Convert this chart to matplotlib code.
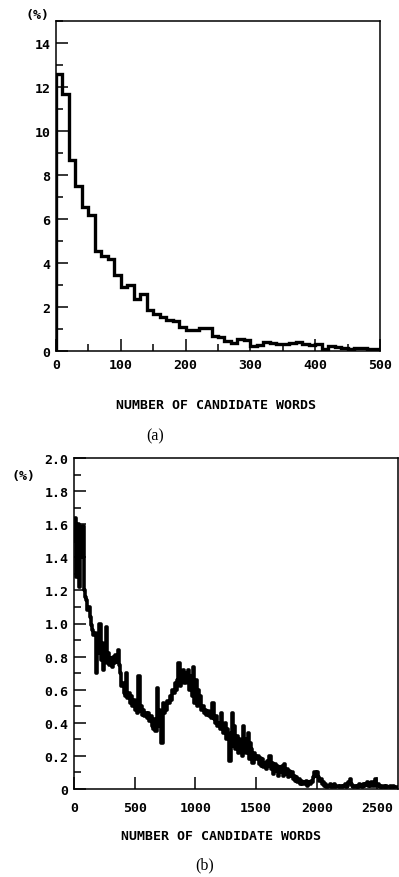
import numpy as np
import matplotlib
matplotlib.use("Agg")
import matplotlib.pyplot as plt
from matplotlib.ticker import MultipleLocator, FixedLocator, FixedFormatter

W, H = 399, 878

# (a) histogram, bins of 10 candidate words
a_edges = np.arange(0, 510, 10)
a_vals = [12.6, 11.7, 8.7, 7.5, 6.55, 6.2, 4.55, 4.3, 4.2, 3.45,
          2.9, 3.0, 2.35, 2.6, 1.85, 1.7, 1.55, 1.42, 1.35, 1.08,
          0.95, 0.95, 1.05, 1.05, 0.7, 0.62, 0.45, 0.38, 0.55, 0.5,
          0.25, 0.28, 0.42, 0.35, 0.33, 0.33, 0.35, 0.4, 0.3, 0.28,
          0.32, 0.1, 0.22, 0.18, 0.15, 0.08, 0.12, 0.12, 0.1, 0.1]

# (b) distribution, step of 10 candidate words
b_step = 10
b_vals = [1.50, 1.64, 1.28, 1.60, 1.22, 1.56, 1.40, 1.59, 1.20, 1.16,
          1.14, 1.08, 1.10, 1.04, 0.99, 0.96, 0.93, 0.94, 0.70, 0.86,
          0.82, 1.00, 0.78, 0.88, 0.72, 0.80, 0.98, 0.76, 0.82, 0.75,
          0.79, 0.74, 0.80, 0.76, 0.81, 0.77, 0.84, 0.75, 0.70, 0.62,
          0.64, 0.58, 0.56, 0.70, 0.55, 0.58, 0.52, 0.56, 0.50, 0.54,
          0.48, 0.52, 0.46, 0.68, 0.47, 0.50, 0.45, 0.48, 0.44, 0.46,
          0.43, 0.46, 0.41, 0.44, 0.38, 0.36, 0.42, 0.35, 0.61, 0.38,
          0.48, 0.40, 0.28, 0.52, 0.46, 0.50, 0.48, 0.53, 0.52, 0.56,
          0.54, 0.60, 0.58, 0.64, 0.60, 0.66, 0.76, 0.62, 0.70, 0.68,
          0.72, 0.64, 0.70, 0.66, 0.72, 0.60, 0.68, 0.56, 0.74, 0.52,
          0.66, 0.50, 0.60, 0.52, 0.56, 0.48, 0.50, 0.46, 0.48, 0.45,
          0.47, 0.44, 0.46, 0.43, 0.52, 0.42, 0.40, 0.44, 0.38, 0.40,
          0.36, 0.46, 0.38, 0.34, 0.40, 0.30, 0.36, 0.32, 0.17, 0.34,
          0.46, 0.26, 0.38, 0.24, 0.32, 0.22, 0.30, 0.26, 0.20, 0.38,
          0.28, 0.30, 0.22, 0.34, 0.18, 0.28, 0.24, 0.16, 0.22, 0.20,
          0.18, 0.20, 0.15, 0.19, 0.14, 0.18, 0.13, 0.16, 0.12, 0.17,
          0.14, 0.20, 0.12, 0.16, 0.09, 0.15, 0.11, 0.14, 0.08, 0.13,
          0.10, 0.14, 0.08, 0.15, 0.09, 0.12, 0.07, 0.11, 0.08, 0.10,
          0.06, 0.08, 0.05, 0.07, 0.04, 0.06, 0.03, 0.05, 0.03, 0.04,
          0.03, 0.05, 0.02, 0.04, 0.03, 0.05, 0.04, 0.07, 0.10, 0.08,
          0.10, 0.07, 0.05, 0.06, 0.03, 0.04, 0.02, 0.03, 0.01, 0.02,
          0.02, 0.03, 0.01, 0.02, 0.03, 0.01, 0.02, 0.02, 0.01, 0.02,
          0.02, 0.01, 0.02, 0.03, 0.01, 0.02, 0.04, 0.06, 0.03, 0.02,
          0.01, 0.02, 0.01, 0.02, 0.01, 0.03, 0.02, 0.01, 0.03, 0.02,
          0.03, 0.04, 0.02, 0.03, 0.02, 0.04, 0.02, 0.03, 0.06, 0.02,
          0.03, 0.02, 0.01, 0.02, 0.01, 0.02, 0.01, 0.02, 0.01, 0.01,
          0.02, 0.01, 0.01, 0.02, 0.01, 0.01, 0.01]
b_x = np.arange(len(b_vals)) * b_step

a_yticks = [0, 2, 4, 6, 8, 10, 12, 14]
b_yticks = [0, 0.2, 0.4, 0.6, 0.8, 1.0, 1.2, 1.4, 1.6, 1.8, 2.0]
b_ylabels = ["0", "0.2", "0.4", "0.6", "0.8", "1.0", "1.2", "1.4", "1.6", "1.8", "2.0"]
b_xticks = [0, 500, 1000, 1500, 2000, 2500]

plt.rcParams['font.family'] = ['DejaVu Sans Mono']
plt.rcParams['font.weight'] = 'bold'
FS = 9.5


def box(l, t, r, b):
    return [l / W, 1 - b / H, (r - l) / W, (b - t) / H]


def style(ax):
    for s in ax.spines.values():
        s.set_linewidth(1.1)
    ax.tick_params(which='both', direction='in', top=False, right=False,
                   width=1.1, labelsize=FS)
    ax.tick_params(which='major', length=8.5)
    ax.tick_params(which='minor', length=5)


fig = plt.figure(figsize=(W / 100, H / 100), dpi=100)

ax1 = fig.add_axes(box(56, 22, 380, 352))
ax1.stairs(a_vals, a_edges, color='black', lw=2.4)
ax1.set_xlim(0, 500)
ax1.set_ylim(0, 15)
ax1.yaxis.set_major_locator(FixedLocator(a_yticks))
ax1.yaxis.set_minor_locator(MultipleLocator(1))
ax1.xaxis.set_major_locator(MultipleLocator(100))
ax1.xaxis.set_minor_locator(MultipleLocator(50))
style(ax1)
ax1.tick_params(axis='x', pad=5)
ax1.tick_params(axis='y', pad=4)

ax2 = fig.add_axes(box(74, 459, 398, 790))
ax2.step(b_x, b_vals, where='post', color='black', lw=2.6)
ax2.set_xlim(0, 2669)
ax2.set_ylim(0, 2.0)
ax2.yaxis.set_major_locator(FixedLocator(b_yticks))
ax2.yaxis.set_major_formatter(FixedFormatter(b_ylabels))
ax2.yaxis.set_minor_locator(MultipleLocator(0.1))
ax2.xaxis.set_major_locator(FixedLocator(b_xticks))
style(ax2)
ax2.tick_params(axis='x', pad=9)
ax2.tick_params(axis='y', pad=4)


def ftext(x, y, s, **kw):
    fig.text(x / W, 1 - y / H, s, ha='center', va='center', **kw)


ftext(38, 15, "(%)", fontsize=FS)
ftext(24, 477, "(%)", fontsize=FS)
ftext(216, 406, "NUMBER OF CANDIDATE WORDS", fontsize=FS)
ftext(221, 837, "NUMBER OF CANDIDATE WORDS", fontsize=FS)
ftext(155, 436, "(a)", fontsize=11.5, family='Liberation Serif', weight='normal')
ftext(205, 865, "(b)", fontsize=11.5, family='Liberation Serif', weight='normal')

fig.savefig("out.png", dpi=100)
